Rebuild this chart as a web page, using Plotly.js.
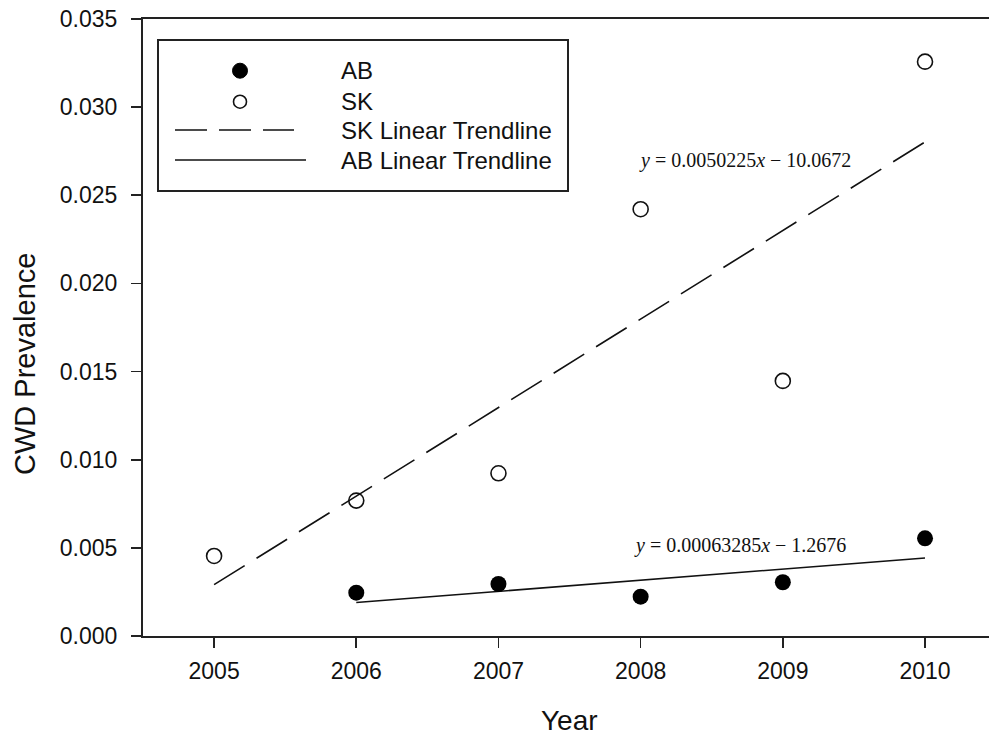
<!DOCTYPE html>
<html>
<head>
<meta charset="utf-8">
<script src="https://cdn.plot.ly/plotly-3.0.1.min.js"></script>
<style>
  html, body { margin: 0; padding: 0; background: #ffffff; }
  #chart { width: 989px; height: 736px; }
</style>
</head>
<body>
<div id="chart"></div>
<script>
// Survey years and CWD prevalence by province
const years = [2005, 2006, 2007, 2008, 2009, 2010];
const skPrevalence = [0.00454, 0.00768, 0.00923, 0.02421, 0.01447, 0.03258];
const abYears = [2006, 2007, 2008, 2009, 2010];
const abPrevalence = [0.00246, 0.00295, 0.00223, 0.00305, 0.00554];

// Fitted linear trendlines (slope, intercept) as printed on the chart
const skSlope = 0.0050225, skIntercept = -10.0672;
const abSlope = 0.00063285, abIntercept = -1.2676;
const skTrendYears = [2005, 2010];
const abTrendYears = [2006, 2010];

const legendLabels = ["AB", "SK", "SK Linear Trendline", "AB Linear Trendline"];
const yTicks = [0, 0.005, 0.010, 0.015, 0.020, 0.025, 0.030, 0.035];

// Plot-area geometry in pixels, used to place the hand-drawn legend and labels
const W = 989, H = 736;
const M = { l: 143, r: 0, t: 19, b: 100 };
const plotW = W - M.l - M.r, plotH = H - M.t - M.b;
const px = x => (x - M.l) / plotW;
const py = y => (H - M.b - y) / plotH;

const fit = (slope, icpt, xs) => xs.map(x => slope * x + icpt);

const sansFont = "Liberation Sans, Arial, sans-serif";
const serifFont = "Liberation Serif, Times New Roman, serif";

const traces = [
  {
    x: skTrendYears, y: fit(skSlope, skIntercept, skTrendYears),
    type: "scatter", mode: "lines", name: legendLabels[2],
    line: { color: "#111", width: 1.6, dash: "36px,14px" },
    hoverinfo: "skip"
  },
  {
    x: abTrendYears, y: fit(abSlope, abIntercept, abTrendYears),
    type: "scatter", mode: "lines", name: legendLabels[3],
    line: { color: "#111", width: 1.6 },
    hoverinfo: "skip"
  },
  {
    x: years, y: skPrevalence,
    type: "scatter", mode: "markers", name: legendLabels[1],
    marker: { symbol: "circle-open", size: 15, color: "#111", line: { width: 1.6, color: "#111" } }
  },
  {
    x: abYears, y: abPrevalence,
    type: "scatter", mode: "markers", name: legendLabels[0],
    marker: { symbol: "circle", size: 16, color: "#000" }
  }
];

// Legend drawn with shapes and annotations
const legendBox = { x0: 158, x1: 568, y0: 40, y1: 191 };
const rowY = [70.7, 101.7, 130, 160];
const symX = 240, sampleX0 = 175, sampleX1 = 306, textX = 339;

const shapes = [
  {
    type: "rect", xref: "paper", yref: "paper",
    x0: px(legendBox.x0), x1: px(legendBox.x1), y0: py(legendBox.y1), y1: py(legendBox.y0),
    line: { color: "#222", width: 2 }, fillcolor: "rgba(0,0,0,0)"
  },
  {
    type: "circle", xref: "paper", yref: "paper", xsizemode: "pixel", ysizemode: "pixel",
    xanchor: px(symX), yanchor: py(rowY[0]), x0: -7.5, x1: 7.5, y0: -7.5, y1: 7.5,
    fillcolor: "#000", line: { color: "#000", width: 1 }
  },
  {
    type: "circle", xref: "paper", yref: "paper", xsizemode: "pixel", ysizemode: "pixel",
    xanchor: px(symX), yanchor: py(rowY[1]), x0: -6.5, x1: 6.5, y0: -6.5, y1: 6.5,
    fillcolor: "rgba(0,0,0,0)", line: { color: "#111", width: 1.6 }
  },
  {
    type: "line", xref: "paper", yref: "paper",
    x0: px(sampleX0), x1: px(294), y0: py(rowY[2]), y1: py(rowY[2]),
    line: { color: "#111", width: 1.6, dash: "32px,12px" }
  },
  {
    type: "line", xref: "paper", yref: "paper",
    x0: px(sampleX0), x1: px(sampleX1), y0: py(rowY[3]), y1: py(rowY[3]),
    line: { color: "#111", width: 1.6 }
  }
];

const annotations = legendLabels.map((t, i) => ({
  text: t, xref: "paper", yref: "paper", x: px(textX), y: py(rowY[i]),
  xanchor: "left", yanchor: "middle", showarrow: false,
  font: { family: sansFont, size: 24, color: "#111" }
}));

annotations.push(
  {
    text: "<i>y</i> = 0.0050225<i>x</i> \u2212 10.0672",
    xref: "paper", yref: "paper", x: px(744.5), y: py(160.7),
    xanchor: "center", yanchor: "middle", showarrow: false,
    font: { family: serifFont, size: 20, color: "#111" }
  },
  {
    text: "<i>y</i> = 0.00063285<i>x</i> \u2212 1.2676",
    xref: "paper", yref: "paper", x: px(740), y: py(545.7),
    xanchor: "center", yanchor: "middle", showarrow: false,
    font: { family: serifFont, size: 20, color: "#111" }
  },
  {
    text: "CWD Prevalence",
    xref: "paper", yref: "paper", x: px(25), y: py(364),
    xanchor: "center", yanchor: "middle", textangle: -90, showarrow: false,
    font: { family: sansFont, size: 29, color: "#111" }
  },
  {
    text: "Year",
    xref: "paper", yref: "paper", x: px(569), y: py(720),
    xanchor: "center", yanchor: "middle", showarrow: false,
    font: { family: sansFont, size: 28, color: "#111" }
  }
);

const layout = {
  width: W, height: H,
  margin: M,
  paper_bgcolor: "#fff", plot_bgcolor: "#fff",
  showlegend: false,
  xaxis: {
    range: [2004.5, 2010.45],
    tickvals: years, ticktext: years.map(String),
    ticks: "outside", ticklen: 10, tickwidth: 1.6, tickcolor: "#222",
    ticklabelstandoff: 3,
    showline: true, linecolor: "#222", linewidth: 2, mirror: true,
    showgrid: false, zeroline: false,
    tickfont: { family: sansFont, size: 23, color: "#111" }
  },
  yaxis: {
    range: [0, 0.035],
    tickvals: yTicks, tickformat: ".3f",
    ticks: "outside", ticklen: 10, tickwidth: 1.6, tickcolor: "#222",
    ticklabelstandoff: 9,
    showline: true, linecolor: "#222", linewidth: 2, mirror: false,
    showgrid: false, zeroline: false,
    tickfont: { family: sansFont, size: 23, color: "#111" }
  },
  shapes: shapes,
  annotations: annotations
};

Plotly.newPlot("chart", traces, layout, { staticPlot: true, displayModeBar: false });
</script>
</body>
</html>
